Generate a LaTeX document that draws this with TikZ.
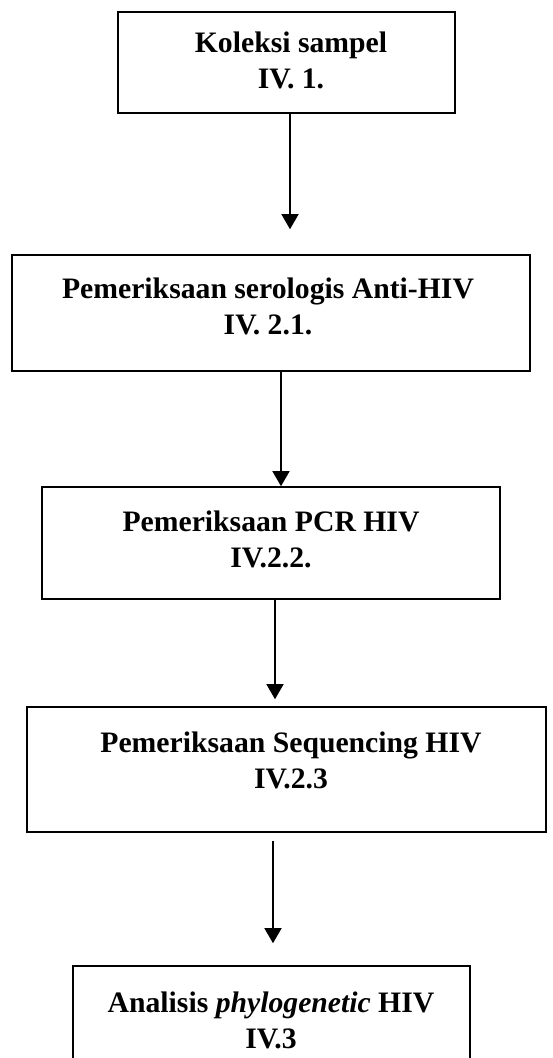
\documentclass[tikz,border=0pt]{standalone}
\usepackage{fontspec}
\setmainfont{Liberation Serif}
\usetikzlibrary{arrows.meta}
\begin{document}
\begin{tikzpicture}[x=1pt,y=-1pt,
  box/.style={draw, line width=1.6pt, inner sep=0pt, rectangle},
  lbl/.style={align=center, inner sep=0pt, font=\bfseries\fontsize{29.7}{36}\selectfont},
  arr/.style={line width=1.4pt, -{Triangle[width=17pt,length=15pt]}}]
\useasboundingbox (0,0) rectangle (552,1058);
\clip (0,0) rectangle (552,1058);
\node[box, minimum width=337pt, minimum height=101pt] (b1) at (286.5,62.5) {};
\node[box, minimum width=518pt, minimum height=116pt] (b2) at (271,313) {};
\node[box, minimum width=458pt, minimum height=112pt] (b3) at (271,543) {};
\node[box, minimum width=519pt, minimum height=125pt] (b4) at (286.5,769.5) {};
\node[box, minimum width=397pt, minimum height=114pt] (b5) at (271.5,1023) {};
\node[lbl] (t1) at (291,60.5) {Koleksi sampel\\IV. 1.};
\node[lbl] (t2) at (268,306.5) {Pemeriksaan serologis Anti-HIV\\IV. 2.1.};
\node[lbl] (t3) at (271,539) {Pemeriksaan PCR HIV\\IV.2.2.};
\node[lbl] (t4) at (291,760.5) {Pemeriksaan Sequencing HIV\\IV.2.3};
\node[lbl] (t5) at (271,1020) {Analisis \textit{phylogenetic} HIV\\IV.3};
\coordinate (x1) at (290,0);
\coordinate (x2) at (281,0);
\coordinate (x3) at (275,0);
\coordinate (x4) at (273,0);
\draw[arr, shorten >=25pt] (b1.south -| x1) -- (b2.north -| x1);
\draw[arr] (b2.south -| x2) -- (b3.north -| x2);
\draw[arr, shorten >=7pt] (b3.south -| x3) -- (b4.north -| x3);
\draw[arr, shorten <=8pt, shorten >=22pt] (b4.south -| x4) -- (b5.north -| x4);
\end{tikzpicture}
\end{document}
